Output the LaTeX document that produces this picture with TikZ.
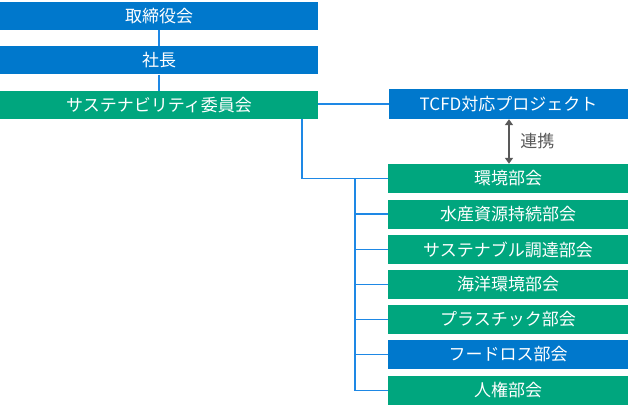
\documentclass[tikz,border=0pt]{standalone}
\usepackage{fontspec}
\newfontfamily\jp{Noto Sans CJK JP}
\usetikzlibrary{arrows.meta}
\definecolor{bblue}{RGB}{0,120,204}
\definecolor{bgreen}{RGB}{0,166,126}
\definecolor{lline}{RGB}{30,136,229}
\definecolor{agrey}{RGB}{89,89,89}
\begin{document}
\begin{tikzpicture}[x=1pt,y=-1pt,
  box/.style={minimum height=28pt, inner sep=0pt, text=white, font=\jp\fontsize{17}{19}\selectfont},
  topbox/.style={box, minimum width=318pt},
  subbox/.style={box, minimum width=240pt, minimum height=29pt},
  conn/.style={draw=lline, line width=1.6pt}]
\useasboundingbox (0,0) rectangle (630,412);
\node[topbox, fill=bblue] (board) at (159,16) {取締役会};
\node[topbox, fill=bblue] (pres) at (159,60.5) {社長};
\node[topbox, fill=bgreen] (sus) at (159,105) {サステナビリティ委員会};
\node[subbox, fill=bblue, minimum width=239pt, minimum height=30pt] (tcfd) at (508.5,104) {TCFD対応プロジェクト};
\node[subbox, fill=bgreen] (c1) at (508,178.5) {環境部会};
\node[subbox, fill=bgreen] (c2) at (508,214) {水産資源持続部会};
\node[subbox, fill=bgreen] (c3) at (508,249.5) {サステナブル調達部会};
\node[subbox, fill=bgreen] (c4) at (508,284.5) {海洋環境部会};
\node[subbox, fill=bgreen] (c5) at (508,319.5) {プラスチック部会};
\node[subbox, fill=bblue] (c6) at (508,354.5) {フードロス部会};
\node[subbox, fill=bgreen] (c7) at (508,390.5) {人権部会};
\draw[conn] (board.south) -- (pres.north);
\draw[conn] (pres.south) -- (sus.north);
\draw[conn] (sus.east |- tcfd.west) -- (tcfd.west);
\draw[conn] (sus.south -| 302,0) |- (c1.west);
\coordinate (vtop) at (355,178.5);
\draw[conn] (vtop) |- (c7.west);
\foreach \n in {c2,c3,c4,c5,c6} \draw[conn] (vtop |- \n.west) -- (\n.west);
\draw[agrey, line width=2.2pt, {Triangle[length=6pt,width=8pt]}-{Triangle[length=6pt,width=8pt]}] (tcfd.south -| 509,0) -- (c1.north -| 509,0) node[midway, right=7pt, text=agrey, font=\jp\fontsize{17}{19}\selectfont] {連携};
\end{tikzpicture}
\end{document}
